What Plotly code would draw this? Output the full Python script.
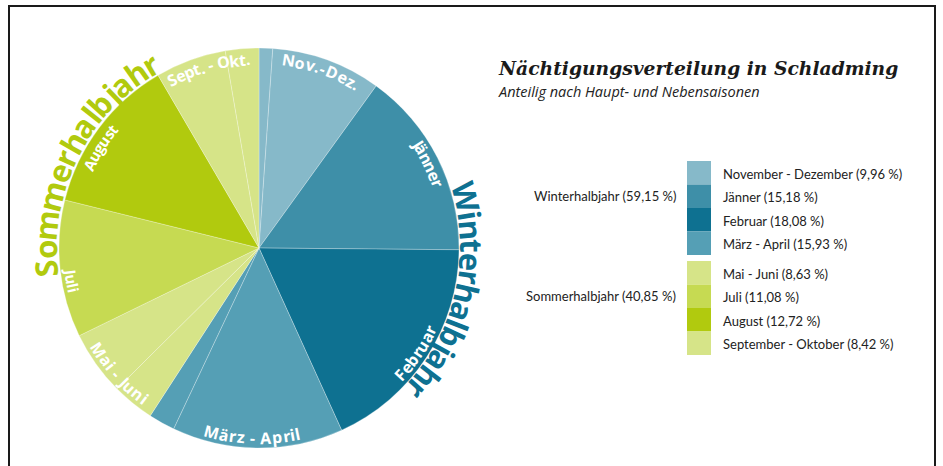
import math
import plotly.graph_objects as go

# ---------------- data ----------------
slice_labels = ["November", "Dezember", "Jänner", "Februar", "März", "April",
                "Mai", "Juni", "Juli", "August", "September", "Oktober"]
slice_values = [1.10, 8.86, 15.18, 18.08, 13.80, 2.13, 3.42, 5.21, 11.08, 12.72, 5.72, 2.70]

legend_names = ["November - Dezember", "Jänner", "Februar", "März - April",
                "Mai - Juni", "Juli", "August", "September - Oktober"]
legend_values = [9.96, 15.18, 18.08, 15.93, 8.63, 11.08, 12.72, 8.42]
legend_group = [0, 0, 0, 0, 1, 1, 1, 1]

season_names = ["Winterhalbjahr", "Sommerhalbjahr"]
season_values = [59.15, 40.85]

arc_labels = ["Winterhalbjahr", "Sommerhalbjahr", "Nov.-Dez.", "Jänner", "Februar",
              "März - April", "Mai - Juni", "Juli", "August", "Sept. - Okt."]

title = "Nächtigungsverteilung in Schladming"
subtitle = "Anteilig nach Haupt- und Nebensaisonen"

# ---------------- styles ----------------
C_NOV = "#86b9c9"; C_JAN = "#3e8fa8"; C_FEB = "#0e7191"; C_MAR = "#559fb5"
C_MAI = "#d6e488"; C_JUL = "#c6da52"; C_AUG = "#b1ca0e"; C_SEP = "#d6e488"
slice_colors = [C_NOV, C_NOV, C_JAN, C_FEB, C_MAR, C_MAR, C_MAI, C_MAI, C_JUL, C_AUG, C_SEP, C_SEP]
legend_colors = [C_NOV, C_JAN, C_FEB, C_MAR, C_MAI, C_JUL, C_AUG, C_SEP]
TEAL = "#0e7191"
GREEN = "#b1ca0e"

W, H = 943, 466
CX, CY, R = 259, 248, 200


def px(x, y):
    return x / W, 1 - y / H


# approximate advance widths (em) for bold sans
WIDTH = {' ': .26, '-': .32, '.': .28, 'A': .69, 'D': .73, 'F': .56, 'J': .33,
         'M': .91, 'N': .79, 'O': .79, 'S': .56, 'W': .97, 'a': .59, 'b': .63,
         'e': .59, 'g': .56, 'h': .65, 'i': .30, 'j': .30, 'k': .62, 'l': .30,
         'm': .97, 'n': .65, 'o': .62, 'p': .63, 'r': .45, 's': .50, 't': .43,
         'u': .65, 'v': .58, 'z': .50, 'ä': .59}

# (start angle, end angle, radius, size, colour, clockwise)
arc_layout = [
    (76.0, 132.0, 213, 31, TEAL, True),
    (264.6, 329.4, 214, 31, GREEN, True),
    (8.8, 31.0, 190, 16, "white", True),
    (56.6, 70.0, 190, 16, "white", True),
    (132.0, 115.4, 190, 16, "white", False),
    (194.5, 168.3, 190, 16, "white", False),
    (237.6, 217.2, 190, 16, "white", False),
    (263.0, 257.0, 190, 15, "white", False),
    (296.2, 309.1, 189, 15, "white", True),
    (332.6, 356.7, 189, 16, "white", True),
]

annotations = []
shapes = []


def arc_text(text, th0, th1, r, size, color, cw):
    ws = [WIDTH.get(c, 0.6) for c in text]
    centers, acc = [], 0.0
    for w in ws:
        centers.append(acc + w / 2)
        acc += w
    span = centers[-1] - centers[0]
    for ch, cc in zip(text, centers):
        if ch == ' ':
            continue
        f = (cc - centers[0]) / span
        th = th0 + f * (th1 - th0)
        t = math.radians(th)
        x, y = px(CX + r * math.sin(t), CY - r * math.cos(t))
        ang = th if cw else th - 180
        ang = ((ang + 180) % 360) - 180
        annotations.append(dict(
            text=ch, x=x, y=y, xref="paper", yref="paper", showarrow=False,
            textangle=ang, xanchor="center", yanchor="middle",
            font=dict(family="Open Sans", size=size, color=color, weight="bold")))


for txt, lay in zip(arc_labels, arc_layout):
    arc_text(txt, *lay)

# ---------------- pie ----------------
x0, y1 = px(CX - R, CY - R)
x1, y0 = px(CX + R, CY + R)
fig = go.Figure(go.Pie(
    labels=slice_labels, values=slice_values, sort=False, direction="clockwise",
    rotation=0, textinfo="none", hoverinfo="label+percent",
    marker=dict(colors=slice_colors, line=dict(color="rgba(255,255,255,0.45)", width=0.6)),
    domain=dict(x=[x0, x1], y=[y0, y1]), showlegend=False))

# ---------------- legend ----------------
BOX_X0, BOX_X1 = 687, 711
ROW_H = 23.5
GROUP_TOP = [161, 261]
row_in_group = [0, 0]
for name, val, grp, col in zip(legend_names, legend_values, legend_group, legend_colors):
    top = GROUP_TOP[grp] + row_in_group[grp] * ROW_H
    row_in_group[grp] += 1
    bx0, by0 = px(BOX_X0, top)
    bx1, by1 = px(BOX_X1, top + ROW_H)
    shapes.append(dict(type="rect", xref="paper", yref="paper", x0=bx0, x1=bx1,
                       y0=by1, y1=by0, fillcolor=col, line=dict(width=0)))
    lx, ly = px(721, top + ROW_H / 2 + 1)
    annotations.append(dict(
        text=f"{name} ({val:.2f} %)".replace(".", ","), x=lx, y=ly,
        xref="paper", yref="paper", showarrow=False, xanchor="left", yanchor="middle",
        font=dict(family="Lato", size=13, color="#222")))

for gi, (sname, sval) in enumerate(zip(season_names, season_values)):
    lx, ly = px(678, GROUP_TOP[gi] + 35)
    annotations.append(dict(
        text=f"{sname} ({sval:.2f} %)".replace(".", ","), x=lx, y=ly,
        xref="paper", yref="paper", showarrow=False, xanchor="right", yanchor="middle",
        font=dict(family="Lato", size=13, color="#222")))

# ---------------- titles ----------------
tx, ty = px(496, 68)
annotations.append(dict(text=f"<i>{title}</i>", x=tx, y=ty, xref="paper", yref="paper",
                        showarrow=False, xanchor="left", yanchor="middle",
                        font=dict(family="DejaVu Serif", size=18.7, color="#1a1a1a", weight="bold")))
sx, sy = px(496, 91)
annotations.append(dict(text=f"<i>{subtitle}</i>", x=sx, y=sy, xref="paper", yref="paper",
                        showarrow=False, xanchor="left", yanchor="middle",
                        font=dict(family="Open Sans", size=14.5, color="#222")))

# ---------------- frame ----------------
fx0, fy1 = px(9, 6)
fx1, _ = px(935, 0)
shapes.append(dict(type="rect", xref="paper", yref="paper", x0=fx0, x1=fx1,
                   y0=-0.05, y1=fy1, line=dict(color="#1a1a1a", width=2),
                   fillcolor="rgba(0,0,0,0)"))

fig.update_layout(width=W, height=H, margin=dict(l=0, r=0, t=0, b=0),
                  paper_bgcolor="white", plot_bgcolor="white",
                  annotations=annotations, shapes=shapes)
fig.write_html("out.html")
